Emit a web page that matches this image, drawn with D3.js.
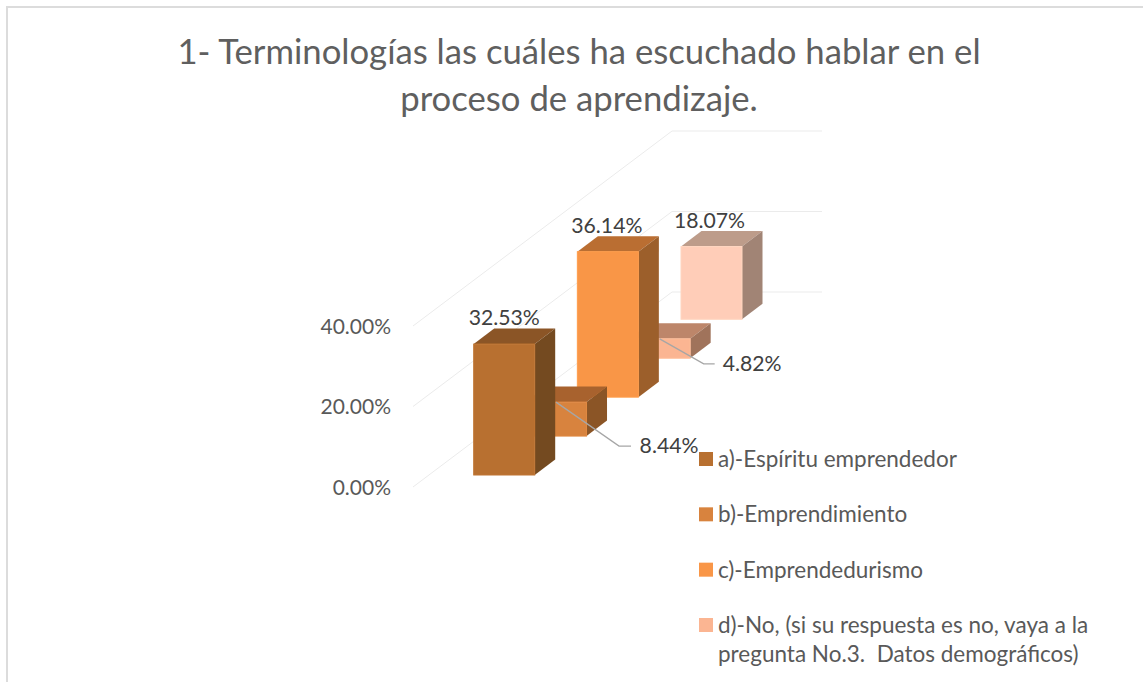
<!DOCTYPE html>
<html><head><meta charset="utf-8">
<script src="https://cdn.jsdelivr.net/npm/d3@7"></script>
<style>html,body{margin:0;padding:0;background:#fff}svg{display:block}text{font-family:Lato,"Open Sans",sans-serif;white-space:pre}</style>
</head><body><svg id="c" width="1143" height="682"></svg>
<script>
const titleLines = ["1- Terminologías las cuáles ha escuchado hablar en el","proceso de aprendizaje."];
const barKeys = ["a","b","c","d","e"];
const barValues = [32.53,8.44,36.14,4.82,18.07];
const barLabels = ["32.53%","8.44%","36.14%","4.82%","18.07%"];
const axisTicks = [0,20,40];
const legendLabels = [["a)-Espíritu emprendedor"],["b)-Emprendimiento"],["c)-Emprendedurismo"],["d)-No, (si su respuesta es no, vaya a la","pregunta No.3.  Datos demográficos)"]];
const frontColors = ["#b87030","#d8833e","#f99647","#fbb592","#ffcdb8"];
const topColors = ["#8b5526","#a8622e","#ba6e32","#bd866a","#bd9c8a"];
const sideColors = ["#744a20","#8b5526","#9c5f2b","#a0735b","#a18475"];
const legendColors = ["#b87030","#d8833e","#f99647","#fbb592"];

const svg = d3.select("#c");
const W=61, DX=20.5, DY=-15.5;
const xPos = d3.scalePoint().domain(barKeys).range([473.7,681]);
const basePos = d3.scalePoint().domain(barKeys).range([475,319.3]);
const axisY = d3.scaleLinear().domain([0,40]).range([487,326]);
const h = v => axisY(0)-axisY(v);

// frame
svg.append("path").attr("d","M7,682V7H1143").attr("fill","none").attr("stroke","#dcdcdc").attr("stroke-width",2);

// walls
const grid = svg.append("g").attr("fill","none").attr("stroke","#ebebeb").attr("stroke-width",1);
axisTicks.forEach(t=>{
  const y=axisY(t);
  grid.append("path").attr("d",d3.line()([[413,y],[672,y-195],[822,y-195]]));
});
// axis labels
const axisG = svg.append("g").attr("transform","translate(391,0)")
  .call(d3.axisLeft(axisY).tickValues(axisTicks).tickSize(0).tickPadding(0).tickFormat(d=>d3.format(".2f")(d)+"%"));
axisG.select(".domain").remove();
axisG.selectAll("text").attr("font-size",21).attr("font-family","Lato").attr("fill","#595959").attr("dy",7);

// bars, far to near
const order = d3.range(barKeys.length).reverse();
const bars = svg.append("g").selectAll("g").data(order).join("g");
bars.each(function(i){
  const g=d3.select(this), x=xPos(barKeys[i]), b=basePos(barKeys[i]), t=b-h(barValues[i]);
  const poly=(pts,f)=>g.append("polygon").attr("points",pts.map(p=>p.join(",")).join(" ")).attr("fill",f);
  poly([[x,t],[x+W,t],[x+W+DX,t+DY],[x+DX,t+DY]],topColors[i]);
  poly([[x+W,t],[x+W+DX,t+DY],[x+W+DX,b+DY],[x+W,b]],sideColors[i]);
  g.append("rect").attr("x",x).attr("y",t).attr("width",W).attr("height",b-t).attr("fill",frontColors[i]).attr("stroke",d3.color(frontColors[i]).brighter(0.12)).attr("stroke-width",1);
});

// data labels
const labelStyle = {a:{dx:30.5,y:-19},b:{dx:143.5,y:50.5},c:{dx:29.5,y:-18.5},d:{dx:123,y:32.5},e:{dx:28.5,y:-18.5}};
const leaders = {b:[[63,44],[75,44]],d:[[44,25],[55,25]]};
barKeys.forEach((k,i)=>{
  const x=xPos(k), t=basePos(k)-h(barValues[i]), s=labelStyle[k];
  if(leaders[k]){
    const a=[x+W/2,t];
    svg.append("path").attr("fill","none").attr("stroke","#a6a6a6").attr("stroke-width",1.3)
      .attr("d",d3.line()([a,...leaders[k].map(o=>[a[0]+o[0],a[1]+o[1]])]));
  }
  svg.append("text").attr("x",x+s.dx).attr("y",t+s.y).attr("text-anchor","middle").attr("font-size",21.2).attr("fill","#404040").text(barLabels[i]);
});

// title
svg.append("g").selectAll("text").data(titleLines).join("text")
  .attr("x",579).attr("y",(d,i)=>64+i*47).attr("text-anchor","middle").attr("font-size",34.7).attr("fill","#5f5f5f").text(d=>d);

// legend
const legendY = d3.scalePoint().domain(d3.range(legendLabels.length)).range([452,618]);
legendLabels.forEach((lines,i)=>{
  const y=legendY(i);
  svg.append("rect").attr("x",699).attr("y",y).attr("width",14).attr("height",14).attr("fill",legendColors[i]);
  lines.forEach((l,j)=>svg.append("text").attr("x",718).attr("y",y+15+j*29).attr("font-size",22.5).attr("fill","#595959").text(l));
});
</script></body></html>
